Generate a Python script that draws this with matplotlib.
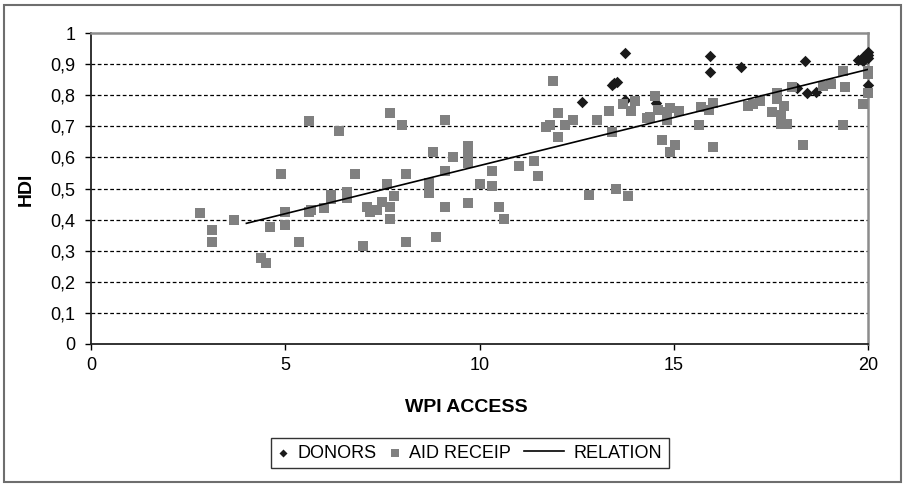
import matplotlib
matplotlib.use("Agg")
import matplotlib.pyplot as plt
from matplotlib.patches import Rectangle
from matplotlib.legend_handler import HandlerLine2D

# Data
donors_x = [13.74, 13.41, 13.47, 13.54, 12.65, 13.74, 14.54, 15.93, 15.93, 16.74,
            18.37, 18.18, 18.44, 18.67, 19.74, 19.86, 19.86, 20.0, 20.0, 20.0, 20.0]
donors_y = [0.935, 0.833, 0.838, 0.843, 0.777, 0.785, 0.774, 0.927, 0.875, 0.892,
            0.910, 0.822, 0.806, 0.811, 0.913, 0.910, 0.922, 0.940, 0.930, 0.920, 0.833]

aid_x = [2.80, 3.11, 3.11, 3.68, 4.37, 4.50, 4.61, 4.88, 4.99, 4.99, 5.36, 5.60, 5.67, 5.60,
         6.00, 6.17, 6.17, 6.38, 6.60, 6.60, 6.79, 6.99, 7.10, 7.18, 7.37, 7.49, 7.61, 7.70,
         7.70, 7.70, 7.80, 8.01, 8.11, 8.11, 8.70, 8.70, 8.80, 8.88, 9.11, 9.12, 9.12, 9.31,
         9.70, 9.70, 9.70, 9.70, 10.02, 10.32, 10.32, 10.51, 10.63, 11.02, 11.40, 11.50,
         11.72, 11.82, 11.89, 12.03, 12.03, 12.20, 12.41, 12.82, 13.03, 13.34, 13.41, 13.51,
         13.70, 13.83, 13.90, 14.01, 14.31, 14.40, 14.53, 14.60, 14.70, 14.83, 14.83, 14.91,
         14.91, 15.02, 15.14, 15.64, 15.71, 15.91, 16.02, 16.02, 16.92, 17.03, 17.22, 17.52,
         17.65, 17.65, 17.84, 17.75, 17.75, 17.92, 18.04, 18.33, 18.85, 19.04, 19.35, 19.42,
         19.35, 19.86, 20.00, 20.00, 20.00]
aid_y = [0.420, 0.366, 0.327, 0.399, 0.276, 0.259, 0.375, 0.546, 0.423, 0.382, 0.327, 0.425,
         0.431, 0.716, 0.436, 0.480, 0.465, 0.686, 0.490, 0.468, 0.546, 0.316, 0.441, 0.423,
         0.431, 0.458, 0.514, 0.441, 0.401, 0.742, 0.476, 0.703, 0.547, 0.327, 0.517, 0.487,
         0.618, 0.343, 0.719, 0.555, 0.440, 0.600, 0.638, 0.604, 0.583, 0.452, 0.513, 0.555,
         0.508, 0.440, 0.401, 0.572, 0.588, 0.540, 0.697, 0.704, 0.845, 0.743, 0.665, 0.704,
         0.719, 0.479, 0.719, 0.749, 0.681, 0.500, 0.772, 0.476, 0.749, 0.780, 0.726, 0.731,
         0.797, 0.752, 0.656, 0.747, 0.720, 0.758, 0.616, 0.639, 0.749, 0.703, 0.763, 0.752,
         0.774, 0.633, 0.765, 0.772, 0.781, 0.747, 0.806, 0.787, 0.765, 0.736, 0.709, 0.709,
         0.825, 0.639, 0.830, 0.836, 0.879, 0.827, 0.703, 0.772, 0.878, 0.868, 0.806]

# trend line ends
relation_x = [4.0, 20.0]
relation_y = [0.388, 0.883]

x_ticks = [0, 5, 10, 15, 20]
y_ticks = [0, 0.1, 0.2, 0.3, 0.4, 0.5, 0.6, 0.7, 0.8, 0.9, 1.0]
y_tick_labels = ['0', '0,1', '0,2', '0,3', '0,4', '0,5', '0,6', '0,7', '0,8', '0,9', '1']


# legend handler that gives the line entry a longer sample than the markers
class LongLineHandler(HandlerLine2D):
    def legend_artist(self, legend, orig_handle, fontsize, handlebox):
        handlebox.width = 28.5
        return super().legend_artist(legend, orig_handle, fontsize, handlebox)


plt.rcParams['font.family'] = ['Liberation Sans', 'DejaVu Sans']

fig = plt.figure(figsize=(9.05, 4.86), dpi=100)
fig.patch.set_facecolor('white')
ax = fig.add_axes([91 / 905, 1 - 344 / 486, (868 - 91) / 905, (344 - 33) / 486])

# outer chart border
fig.patches.append(Rectangle((4 / 905, 4 / 486), 897 / 905, 477 / 486, transform=fig.transFigure,
                             fill=False, edgecolor='#6e6e6e', linewidth=1.5))

for yv in y_ticks[1:-1]:
    ax.axhline(yv, color='black', linewidth=0.9, linestyle=(0, (3, 2)), zorder=1)

ax.scatter(donors_x, donors_y, marker='D', s=34, color='#1a1a1a', linewidths=0,
           label='DONORS', zorder=3, clip_on=False)
ax.scatter(aid_x, aid_y, marker='s', s=52, color='#808080', linewidths=0,
           label='AID RECEIP', zorder=4, clip_on=False)
rel_line, = ax.plot(relation_x, relation_y, color='black', linewidth=1.2, label='RELATION', zorder=5)

ax.set_xlim(0, 20)
ax.set_ylim(0, 1)
ax.set_xticks(x_ticks)
ax.set_xticklabels([str(v) for v in x_ticks])
ax.set_yticks(y_ticks)
ax.set_yticklabels(y_tick_labels)
ax.tick_params(axis='both', direction='out', length=4.3, width=1, labelsize=13, color='black')
ax.tick_params(axis='y', pad=7)
ax.tick_params(axis='x', pad=5)

ax.spines['left'].set_color('#222222')
ax.spines['bottom'].set_color('#222222')
ax.spines['left'].set_linewidth(1.3)
ax.spines['bottom'].set_linewidth(1.3)
ax.spines['top'].set_color('#8c8c8c')
ax.spines['right'].set_color('#8c8c8c')
ax.spines['top'].set_linewidth(1.8)
ax.spines['right'].set_linewidth(1.8)

fig.text(26 / 905, 1 - 189 / 486, 'HDI', rotation=90, ha='center', va='center',
         fontsize=14, fontweight='bold')
fig.text(466 / 905, 1 - 407 / 486, 'WPI ACCESS', ha='center', va='center',
         fontsize=14, fontweight='bold')

handles, labels = ax.get_legend_handles_labels()
leg = fig.legend(handles, labels, loc='center', bbox_to_anchor=(470 / 905, 1 - 453 / 486),
                 ncol=3, fontsize=13, frameon=True, fancybox=False, edgecolor='black',
                 handlelength=0.55, handletextpad=0.55, columnspacing=0.72, borderpad=0.35,
                 markerscale=0.7, handler_map={rel_line: LongLineHandler()})
leg.get_frame().set_linewidth(1.0)

fig.savefig('out.png', dpi=100, facecolor='white')
